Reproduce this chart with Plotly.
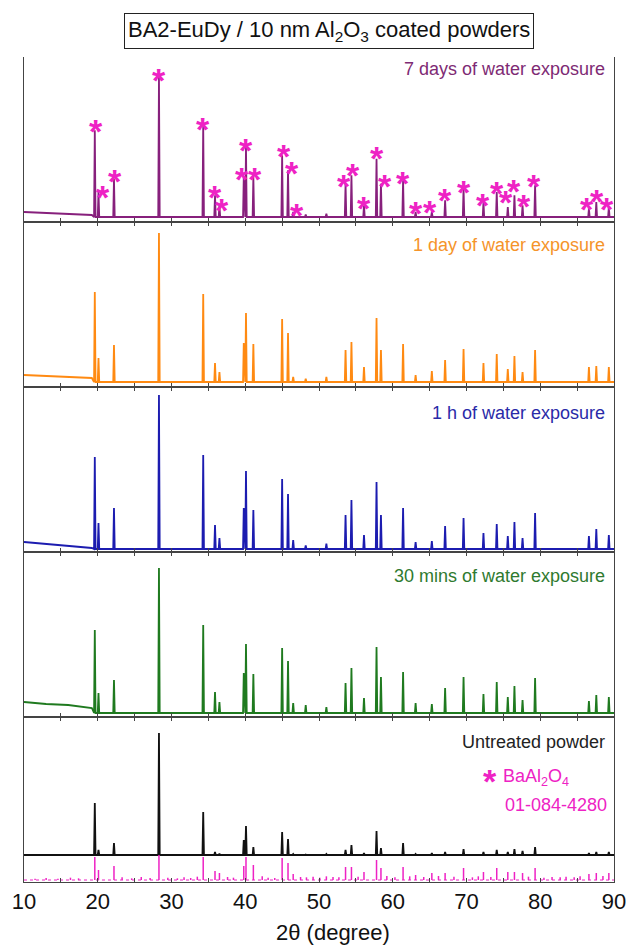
import plotly.graph_objects as go

# ---------------- data ----------------
PEAKS = [19.6, 20.1, 22.2, 28.3, 34.3, 35.9, 36.5, 39.8, 40.1, 41.1, 45.0, 45.8,
         46.5, 48.2, 51.0, 53.6, 54.4, 56.1, 57.8, 58.4, 61.4, 63.1, 65.3, 67.1,
         69.6, 72.3, 74.1, 75.6, 76.5, 77.6, 79.3, 86.6, 87.6, 89.3]

I_7D = [55, 18, 26, 87, 58, 16, 10, 27, 45, 27, 40, 31, 6, 4.5, 5, 23, 28, 10, 38,
        23, 25, 6, 6, 13, 20, 12, 18, 9, 16, 10, 22, 8, 12, 9]
I_1D = [57, 17.4, 25.2, 92.4, 55.8, 14.4, 9, 26.4, 44.4, 25.8, 40.8, 32.4, 6, 5, 6,
        22.2, 27, 12, 41.4, 22.2, 25.8, 7.2, 9.6, 16.2, 22.8, 14.4, 19.8, 10.8,
        18.6, 9, 22.2, 12, 12.6, 12]
I_1H = [57, 17.4, 26.4, 94.2, 58.2, 16.2, 8.4, 26.4, 48.6, 25.2, 43.8, 34.8, 7.2, 4,
        5, 22.2, 31.2, 10.2, 42, 22.2, 26.4, 6, 6.6, 15.6, 20.4, 11.4, 16.8, 9.6,
        18, 8.4, 23.4, 9.6, 13.8, 10.2]
I_30M = [52.2, 14.4, 22.2, 89.4, 55.2, 15, 9, 26.4, 43.8, 25.8, 41.4, 33.6, 8.4, 7.2,
         6, 20.4, 29.4, 11.4, 42, 24, 27, 8.4, 7.8, 17.4, 24, 13.8, 21, 12, 18.6,
         10.2, 23.4, 9.6, 13.2, 12]
I_UNT = [47.4, 19.2, 23.4, 89.4, 42, 18, 17, 25.2, 33.6, 21, 30, 25.8, 16.8, 16.5,
         16.8, 19.2, 22.2, 17.4, 30.6, 20.4, 23.4, 16.8, 17.4, 18, 19.8, 18, 19.2,
         18, 19.8, 18.6, 21, 17.4, 18, 18]

# low-angle background anchors and flat baselines
BG_X = [10, 13, 16, 19.2]
BG_7D = [6.0, 5.4, 4.8, 4.2]
BG_1D = [7.2, 6.6, 6.0, 5.4]
BG_1H = [6.0, 4.8, 3.6, 2.4]
BG_30M = [9.0, 7.8, 7.2, 5.4]
BG_UNT = [16.2, 16.2, 16.2, 16.2]
BASE = {"7d": 3.0, "1d": 3.0, "1h": 1.8, "30m": 2.4, "unt": 16.2}

# BaAl2O4 reference pattern 01-084-4280
REF_POS = [19.6, 20.1, 22.2, 28.3, 34.3, 35.9, 36.5, 39.8, 40.1, 41.1, 45.0, 45.8,
           46.5, 53.6, 54.4, 56.1, 57.8, 58.4, 61.4, 63.1, 65.3, 67.1, 69.6, 72.3,
           74.1, 75.6, 76.5, 77.6, 79.3, 86.6, 87.6, 89.3]
REF_I = [15, 7.2, 9.6, 16.2, 15, 6.6, 5.4, 9.6, 15, 10.2, 14.4, 11.4, 4.8, 9, 9, 6,
         13.2, 8.4, 9, 4.2, 5.4, 5.4, 8.4, 6, 8.4, 6, 6, 5.4, 8.4, 4.8, 5.4, 5.4]
REF_MINOR_POS = [11.5, 13.0, 14.6, 16.3, 17.4, 23.3, 24.6, 25.9, 27.1, 29.5, 30.8,
                 31.7, 32.6, 33.5, 37.6, 38.4, 42.3, 43.1, 44.0, 47.5, 48.3, 49.2,
                 50.1, 51.0, 51.9, 52.7, 55.3, 59.2, 60.3, 62.3, 64.2, 66.2, 68.3,
                 70.8, 71.6, 73.3, 78.4, 80.5, 81.6, 82.7, 83.5, 84.6, 85.4, 88.5]
REF_MINOR_I = [2.0, 2.4, 2.0, 2.6, 2.2, 2.8, 2.2, 3.0, 2.4, 2.6, 2.2, 2.8, 2.4, 3.2,
               3.0, 2.6, 3.4, 2.6, 2.4, 3.0, 2.8, 3.2, 2.6, 3.4, 3.0, 2.8, 3.2, 3.6,
               2.8, 3.4, 3.0, 3.6, 3.2, 2.8, 3.4, 3.0, 3.2, 2.6, 3.0, 2.8, 3.2, 2.8,
               3.4, 3.6]
REF_BASE = 1.2

# asterisk markers (7 days panel)
STAR_X = [19.7, 20.7, 22.3, 28.3, 34.3, 35.9, 36.9, 39.5, 40.1, 41.3, 45.2, 46.3,
          47.0, 53.4, 54.6, 56.1, 57.8, 58.9, 61.4, 63.1, 65.1, 67.1, 69.6, 72.3,
          74.1, 75.4, 76.4, 77.8, 79.2, 86.3, 87.7, 89.1]
STAR_Y = [60, 20.4, 30, 90.6, 61.2, 20.4, 12.6, 31.2, 48.6, 31.2, 45, 34.8, 9.6, 27,
          33.6, 13.8, 43.8, 27, 28.8, 10.8, 11.4, 18.6, 23.4, 15.6, 22.8, 17.4, 24,
          15, 27, 13.2, 18, 13.2]

LABELS = ["7 days of water exposure", "1 day of water exposure",
          "1 h of water exposure", "30 mins of water exposure", "Untreated powder"]
X_TICKS = [10, 15, 20, 25, 30, 35, 40, 45, 50, 55, 60, 65, 70, 75, 80, 85, 90]
X_TICKTEXT = ["10", "", "20", "", "30", "", "40", "", "50", "", "60", "", "70", "",
              "80", "", "90"]

# ---------------- styling ----------------
FONT = "Liberation Sans, Arial, sans-serif"
C_PURPLE = "#87207C"
C_ORANGE = "#FF8A12"
C_BLUE = "#1C1CB0"
C_GREEN = "#1F7A1F"
C_BLACK = "#111111"
C_MAG = "#EE22C4"
TEXT_COL = ["#7E2A74", "#F5942A", "#2A2AA8", "#2F7A2F", "#222222"]
AX_COL = "#444444"
W = 0.1  # half-width of a peak in degrees

panels = [
    (I_7D, BG_7D, BASE["7d"], C_PURPLE),
    (I_1D, BG_1D, BASE["1d"], C_ORANGE),
    (I_1H, BG_1H, BASE["1h"], C_BLUE),
    (I_30M, BG_30M, BASE["30m"], C_GREEN),
    (I_UNT, BG_UNT, BASE["unt"], C_BLACK),
]


def pattern(heights, bg, base):
    xs, ys = list(BG_X), list(bg)
    for p, h in zip(PEAKS, heights):
        xs += [p - W, p, p + W]
        ys += [base, h, base]
    xs.append(90)
    ys.append(base)
    return xs, ys


fig = go.Figure()
n = len(panels)
for i, (hts, bg, base, col) in enumerate(panels):
    k = i + 1
    xs, ys = pattern(hts, bg, base)
    fig.add_trace(go.Scatter(x=xs, y=ys, mode="lines",
                             line=dict(color=col, width=1.8),
                             xaxis=f"x{k}", yaxis=f"y{k}", showlegend=False,
                             hoverinfo="skip"))

# reference sticks in bottom panel
sx, sy = [], []
for p, h in zip(REF_POS + REF_MINOR_POS, REF_I + REF_MINOR_I):
    sx += [p, p, None]
    sy += [REF_BASE, h, None]
fig.add_trace(go.Scatter(x=[10, 90], y=[REF_BASE, REF_BASE], mode="lines",
                         line=dict(color=C_MAG, width=1, dash="dot"),
                         xaxis="x5", yaxis="y5", showlegend=False))
fig.add_trace(go.Scatter(x=sx, y=sy, mode="lines",
                         line=dict(color=C_MAG, width=1.5),
                         xaxis="x5", yaxis="y5", showlegend=False))

# axes
layout = {}
for i in range(n):
    k = i + 1
    top = 1 - i / n
    bot = 1 - (i + 1) / n
    xa = dict(domain=[0, 1], range=[10, 90], anchor=f"y{k}",
              showline=True, linecolor=AX_COL, linewidth=1,
              ticks="inside", ticklen=4, tickwidth=1, tickcolor=AX_COL,
              tickvals=X_TICKS, ticktext=X_TICKTEXT, showgrid=False,
              zeroline=False, showticklabels=(k == n),
              tickfont=dict(family=FONT, size=22, color="#111111"),
              mirror=("ticks" if k > 1 else False))
    if k > 1:
        xa["matches"] = "x"
    ya = dict(domain=[bot, top], range=[0, 99], anchor=f"x{k}",
              showline=True, linecolor=AX_COL, linewidth=1.3, mirror=True,
              ticks="", showticklabels=False, showgrid=False, zeroline=False)
    layout["xaxis" if k == 1 else f"xaxis{k}"] = xa
    layout["yaxis" if k == 1 else f"yaxis{k}"] = ya

annotations = []
# asterisks
for x, y in zip(STAR_X, STAR_Y):
    annotations.append(dict(x=x, y=y, xref="x", yref="y", text="<b>*</b>",
                            showarrow=False, yshift=-9,
                            font=dict(family=FONT, size=34, color=C_MAG)))
# panel labels
label_y = [0.985, 0.772, 0.5685, 0.371, 0.1697]
for t, yv, c in zip(LABELS, label_y, TEXT_COL):
    annotations.append(dict(x=0.988, y=yv, xref="paper", yref="paper", text=t,
                            showarrow=False, xanchor="right", yanchor="middle",
                            font=dict(family=FONT, size=18, color=c)))
# reference legend
annotations.append(dict(x=0.79, y=0.127, xref="paper", yref="paper", text="<b>*</b>",
                        showarrow=False, xanchor="center", yanchor="middle", yshift=-4,
                        font=dict(family=FONT, size=34, color=C_MAG)))
annotations.append(dict(x=0.808, y=0.127, xref="paper", yref="paper",
                        text="BaAl<sub>2</sub>O<sub>4</sub>",
                        showarrow=False, xanchor="left", yanchor="middle",
                        font=dict(family=FONT, size=18, color=C_MAG)))
annotations.append(dict(x=0.9917, y=0.0933, xref="paper", yref="paper",
                        text="01-084-4280", showarrow=False, xanchor="right",
                        yanchor="middle", font=dict(family=FONT, size=18, color=C_MAG)))
# title box
annotations.append(dict(x=0.517, y=1.0315, xref="paper", yref="paper",
                        text="BA2-EuDy / 10 nm Al<sub>2</sub>O<sub>3</sub> coated powders",
                        showarrow=False, xanchor="center", yanchor="middle",
                        bordercolor="#222222", borderwidth=1, borderpad=3,
                        font=dict(family=FONT, size=22, color="#111111")))
# x-axis title
annotations.append(dict(x=0.523, y=-0.0618, xref="paper", yref="paper",
                        text="2θ (degree)", showarrow=False, xanchor="center",
                        yanchor="middle", font=dict(family=FONT, size=22, color="#111111")))

fig.update_layout(width=638, height=945, margin=dict(l=22, r=16, t=57, b=63),
                  paper_bgcolor="white", plot_bgcolor="white",
                  annotations=annotations, showlegend=False, **layout)

fig.write_html("out.html")
